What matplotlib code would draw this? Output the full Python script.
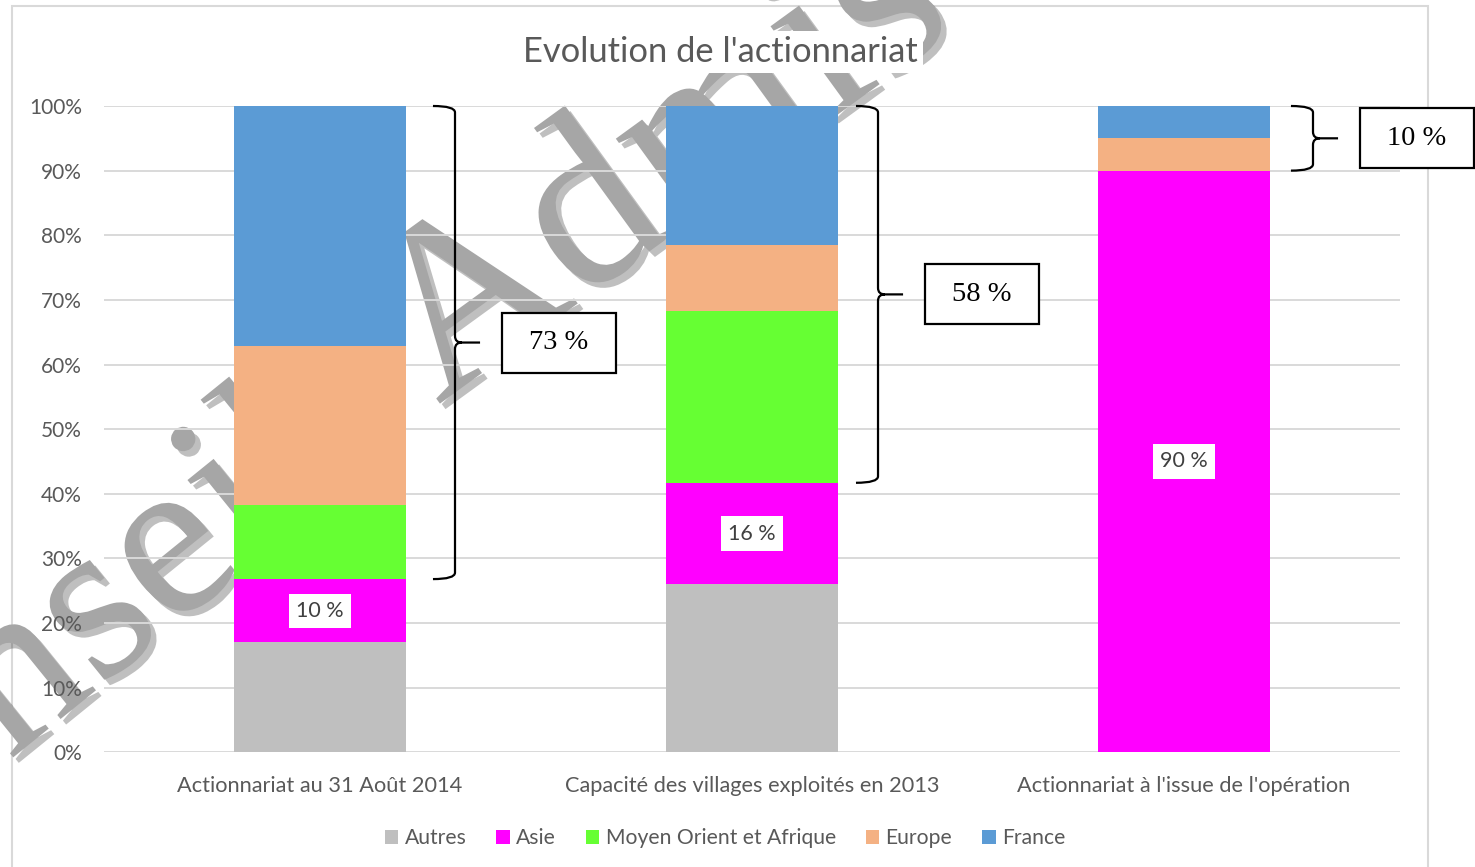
import matplotlib
matplotlib.use("Agg")
import matplotlib.pyplot as plt
import matplotlib.patheffects as pe
from matplotlib.path import Path
from matplotlib.patches import PathPatch, Rectangle
import numpy as np

plt.rcParams["font.family"] = ["Lato", "DejaVu Sans"]

# données (en %)
categories = ["Actionnariat au 31 Août 2014",
              "Capacité des villages exploités en 2013",
              "Actionnariat à l'issue de l'opération"]
series_names = ["Autres", "Asie", "Moyen Orient et Afrique", "Europe", "France"]
autres = [17.0, 26.0, 0.0]
asie = [9.8, 15.7, 90.0]
moyen_orient = [11.5, 26.6, 0.0]
europe = [24.5, 10.2, 5.1]
france = [37.2, 21.5, 4.9]
colors = ["#bfbfbf", "#ff00ff", "#66ff33", "#f4b183", "#5b9bd5"]

W, H = 1475, 867
fig = plt.figure(figsize=(W / 100, H / 100), dpi=100)
ax = fig.add_axes([104 / W, 1 - 752.3 / H, 1296 / W, 646.3 / H])

x = np.arange(len(categories))
bottom = np.zeros(len(categories))
bars = []
for vals, col, name in zip([autres, asie, moyen_orient, europe, france], colors, series_names):
    b = ax.bar(x, vals, 0.4, bottom=bottom, color=col, label=name, zorder=2)
    bars.append(b)
    bottom += np.array(vals)

ax.set_xlim(-0.5, 2.5)
ax.set_ylim(0, 100)
ax.set_yticks(range(0, 101, 10))
ax.set_yticklabels([f"{v}%" for v in range(0, 101, 10)])
ax.set_xticks(x)
ax.set_xticklabels(categories)
ax.set_axisbelow(True)
ax.yaxis.grid(True, color="#d9d9d9", lw=1.4)
for s in ax.spines.values():
    s.set_visible(False)
ax.tick_params(axis="y", length=0, pad=16, labelsize=15, labelcolor="#595959")
ax.tick_params(axis="x", length=0, pad=17, labelsize=15.7, labelcolor="#595959")

# étiquettes Asie
for i in range(len(categories)):
    ax.text(x[i], autres[i] + asie[i] / 2, f"{asie[i]:.0f} %", ha="center", va="center",
            fontsize=15.5, color="#404040", zorder=4,
            bbox=dict(boxstyle="square,pad=0.33", fc="white", ec="none"))


def brace(ax, xc, y0, y1, wl=0.051, wt=0.058, rx=0.016, ry=1.0):
    ym = (y0 + y1) / 2
    verts = [(xc - wl, y1), (xc, y1), (xc, y1 - ry), (xc, ym + ry), (xc, ym), (xc + rx, ym),
             (xc + wt, ym),
             (xc + rx, ym), (xc, ym), (xc, ym - ry), (xc, y0 + ry), (xc, y0), (xc - wl, y0)]
    codes = [Path.MOVETO, Path.CURVE3, Path.CURVE3, Path.LINETO, Path.CURVE3, Path.CURVE3,
             Path.LINETO,
             Path.MOVETO, Path.CURVE3, Path.CURVE3, Path.LINETO, Path.CURVE3, Path.CURVE3]
    ax.add_patch(PathPatch(Path(verts, codes), fill=False, ec="black", lw=1.6,
                           clip_on=False, zorder=4))
    return ym


# accolades + encadrés
brace_dx = [0.3125, 0.2917, 0.2986]
bw, bh = 114 / 432, 60 / 6.463
for i in range(len(categories)):
    y0 = autres[i] + asie[i]
    bx = x[i] + brace_dx[i]
    ym = brace(ax, bx, y0, 100)
    cx = bx + 0.241
    ax.add_patch(Rectangle((cx - bw / 2, ym - bh / 2), bw, bh, fc="white", ec="black",
                           lw=1.6, clip_on=False, zorder=4))
    ax.text(cx, ym, f"{100 - y0:.0f} %", ha="center", va="center", fontsize=20.5,
            family="Liberation Serif", color="black", zorder=5)

# filigrane
shadow = [pe.SimplePatchShadow(offset=(4, -4), shadow_rgbFace="#000000", alpha=0.25), pe.Normal()]
ax.text(-200 / W, 1 - 930 / H, "Conseil", transform=fig.transFigure, rotation=39,
        rotation_mode="anchor", ha="left", va="baseline", fontsize=166,
        family="Liberation Serif", color="#a6a6a6", zorder=0.3, clip_on=False,
        path_effects=shadow)
ax.text(438 / W, 1 - 405 / H, "Admis", transform=fig.transFigure, rotation=36,
        rotation_mode="anchor", ha="left", va="baseline", fontsize=174,
        family="Liberation Serif", color="#a6a6a6", zorder=0.3, clip_on=False,
        path_effects=shadow)

fig.text(720 / W, 1 - 52 / H, "Evolution de l'actionnariat", ha="center", va="center",
         fontsize=24.8, color="#595959",
         bbox=dict(boxstyle="square,pad=0.15", fc="white", ec="none"))

fig.legend(handles=bars, labels=series_names, loc="center",
           bbox_to_anchor=(725 / W, 1 - 838 / H), ncol=5, frameon=False, fontsize=15.2,
           handlelength=0.65, handleheight=0.65, handletextpad=0.3, columnspacing=1.4,
           labelcolor="#595959")

border = Rectangle((12 / W, -0.01), 1416 / W, 1 - 6 / H + 0.01, transform=fig.transFigure,
                   fill=False, ec="#d9d9d9", lw=1.5, zorder=-1)
fig.add_artist(border)

fig.savefig("out.png", dpi=100)
